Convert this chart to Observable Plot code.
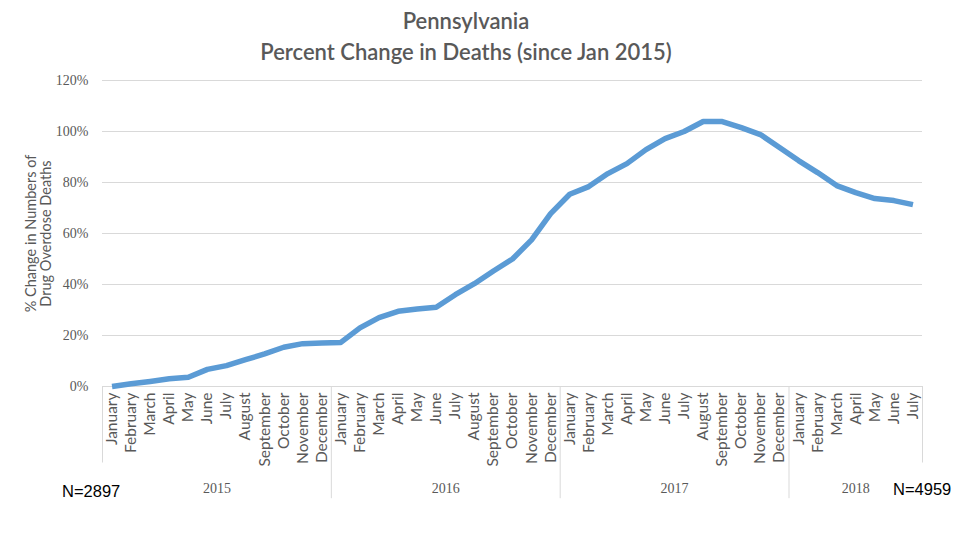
<!DOCTYPE html>
<html>
<head>
<meta charset="utf-8">
<script src="https://cdn.jsdelivr.net/npm/d3@7"></script>
<script src="https://cdn.jsdelivr.net/npm/@observablehq/plot@0.6"></script>
<style>
  html, body { margin: 0; padding: 0; background: #fff; }
  #wrap { position: relative; width: 960px; height: 540px; overflow: hidden; }
  #title { position: absolute; left: 0; top: 5px; width: 932px; text-align: center;
    font-family: Lato, "Open Sans", sans-serif; font-size: 22px; color: #595959; line-height: 31px; font-weight: 600; }
  .n { position: absolute; font-family: "Liberation Sans", Arial, sans-serif; font-size: 16.5px; color: #000; }
  #chart { position: absolute; left: 0; top: 0; }
</style>
</head>
<body>
<div id="wrap">
  <div id="chart"></div>
  <div id="title">Pennsylvania<br>Percent Change in Deaths (since Jan 2015)</div>
  <div class="n" id="n1" style="left:62px; top:482px;">N=2897</div>
  <div class="n" id="n2" style="left:893px; top:480px;">N=4959</div>
</div>
<script>
const monthNames = ["January","February","March","April","May","June","July","August","September","October","November","December"];
const years = ["2015","2016","2017","2018"];
const monthsPerYear = [12, 12, 12, 7];
const pctChange = [
  0, 1.1, 2.0, 3.0, 3.6, 6.7, 8.2, 10.5, 12.8, 15.4, 16.8, 17.1,
  17.3, 23.0, 27.0, 29.5, 30.4, 31.1, 36.0, 40.3, 45.3, 50.0, 57.5, 67.8,
  75.4, 78.4, 83.5, 87.4, 92.9, 97.2, 100.0, 103.9, 103.9, 101.5, 98.8, 93.7,
  88.6, 83.9, 78.8, 76.0, 73.7, 72.9, 71.3
];
const yTicks = [0, 20, 40, 60, 80, 100, 120];

// build table
const data = [];
let idx = 0;
years.forEach((yr, yi) => {
  for (let m = 0; m < monthsPerYear[yi]; m++) {
    data.push({i: idx, year: yr, month: monthNames[m], value: pctChange[idx]});
    idx++;
  }
});
const n = data.length;
// year groups
const groups = [];
let start = 0;
years.forEach((yr, yi) => {
  groups.push({year: yr, start: start - 0.5, end: start + monthsPerYear[yi] - 0.5});
  start += monthsPerYear[yi];
});
const innerSeps = groups.slice(0, -1).map(g => g.end);
const outerSeps = [groups[0].start, groups[groups.length - 1].end];

const sepBottom = -44;   // below axis (layout)
const sepBottomOuter = -30;

const plot = Plot.plot({
  width: 960,
  height: 540,
  marginLeft: 102,
  marginRight: 38,
  marginTop: 80,
  marginBottom: 154,
  style: {background: "transparent", overflow: "visible"},
  x: {type: "linear", domain: [-0.5, n - 0.5], axis: null},
  y: {domain: [0, 120], axis: null},
  marks: [
    Plot.ruleY(yTicks, {stroke: "#d9d9d9", strokeWidth: 1}),
    Plot.ruleX(innerSeps, {y1: 0, y2: sepBottom, stroke: "#d9d9d9"}),
    Plot.ruleX(outerSeps, {y1: 0, y2: sepBottomOuter, stroke: "#d9d9d9"}),
    Plot.text(yTicks, {
      x: -0.5, y: d => d, text: d => d + "%", textAnchor: "end", dx: -14,
      fill: "#595959", fontSize: 14, fontFamily: "Liberation Serif, serif", style: "letter-spacing:1.2px"
    }),
    Plot.line(data, {x: "i", y: "value", stroke: "#5b9bd5", strokeWidth: 5.5, strokeLinejoin: "round", strokeLinecap: "butt"}),
    Plot.text(data, {
      x: "i", y: 0, text: "month", rotate: -90, textAnchor: "end", lineAnchor: "middle", dy: 6,
      fill: "#595959", fontSize: 15.5, fontFamily: "Lato, sans-serif"
    }),
    Plot.text(groups, {
      x: d => (d.start + d.end) / 2, y: 0, text: "year", dy: 102, lineAnchor: "middle",
      fill: "#595959", fontSize: 14, fontFamily: "Liberation Serif, serif", style: "letter-spacing:1.5px"
    }),
    Plot.text(["% Change in Numbers of\nDrug Overdose Deaths"], {
      frameAnchor: "left", dx: -64, rotate: -90, text: d => d, textAnchor: "middle", lineAnchor: "middle",
      fill: "#595959", fontSize: 14.5, fontFamily: "Lato, sans-serif", lineHeight: 1.08
    })
  ]
});
document.getElementById("chart").appendChild(plot);
</script>
</body>
</html>
